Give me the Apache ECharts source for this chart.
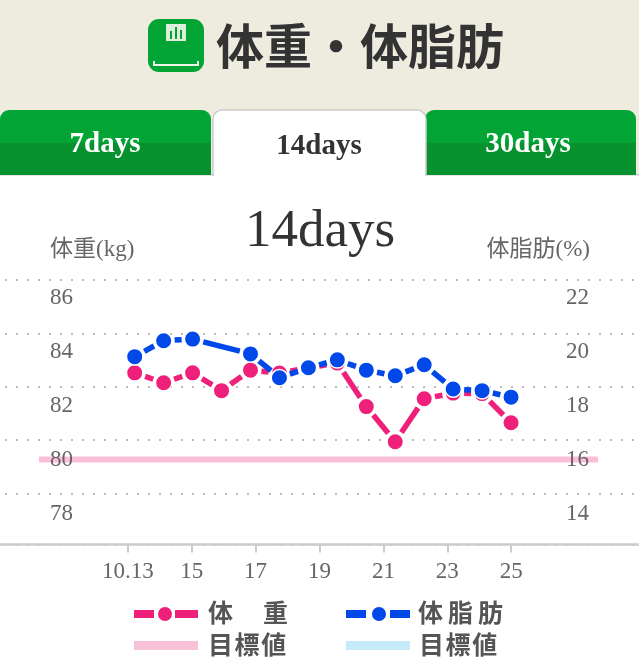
<!DOCTYPE html>
<html><head><meta charset="utf-8">
<script src="https://cdn.jsdelivr.net/npm/echarts@6/dist/echarts.min.js"></script>
<style>html,body{margin:0;padding:0;background:#fff}#c{width:639px;height:663px}</style>
</head><body><div id="c"></div>
<script>
const pageTitle = '体重・体脂肪';
const tabLabels = ['7days', '14days', '30days'];
const chartTitle = '14days';
const leftAxisName = '体重(kg)';
const rightAxisName = '体脂肪(%)';
const dateTicks = [13, 15, 17, 19, 21, 23, 25];
const dateTickLabels = ['10.13', '15', '17', '19', '21', '23', '25'];
const weightTicks = [78, 80, 82, 84, 86];
const fatTicks = [14, 16, 18, 20, 22];
const sampleIndex = [0,1,2,3,4,5,6,7,8,9,10,11,12,13];
const weight = [83.21,82.84,83.21,82.55,83.31,83.2,83.4,83.57,81.96,80.66,82.25,82.46,82.44,81.36];
const bodyFat = [19.81,20.4,20.46,null,19.91,19.03,19.4,19.69,19.31,19.1,19.51,18.61,18.55,18.31];
const weightTarget = 80;
const targetSpan = [10.22, 27.72];
const legendNames = ['体　\u2009重', '体\u2009脂\u2009肪', '目\u200a標\u200a値', '目\u200a標\u200a値'];

const PINK = '#ee2079', BLUE = '#0048e8';
const SERIF = '"Liberation Serif","Noto Sans CJK JP",serif';
const CJK = '"Noto Sans CJK JP","Liberation Sans",sans-serif';

function segments(vals) {
  const out = []; let prev = -1;
  vals.forEach((v, i) => { if (v != null) { if (prev >= 0) out.push([sampleIndex[prev], vals[prev], sampleIndex[i], v]); prev = i; } });
  return out;
}
function gapRender(color, gap) {
  return function (params, api) {
    const a = api.coord([api.value(0), api.value(1)]);
    const b = api.coord([api.value(2), api.value(3)]);
    const dx = b[0]-a[0], dy = b[1]-a[1], d = Math.hypot(dx, dy);
    const ux = dx/d, uy = dy/d;
    return { type:'line', silent:true,
      shape:{ x1:a[0]+ux*gap, y1:a[1]+uy*gap, x2:b[0]-ux*gap, y2:b[1]-uy*gap },
      style:{ stroke:color, lineWidth:5.5, lineCap:'butt' } };
  };
}
function dots(name, vals, color, yIdx, z) {
  return { name, type:'line', xAxisIndex:1, yAxisIndex:yIdx, z,
    data: vals.map((v,i)=>v==null?null:[sampleIndex[i],v]).filter(Boolean),
    lineStyle:{width:0,opacity:0}, symbol:'circle', symbolSize:16.5,
    showSymbol:true, showAllSymbol:true, clip:false, animation:false, silent:true,
    itemStyle:{color, borderColor:'#fff', borderWidth:1.5} };
}
function tab(x, w, active) {
  return { type:'rect', shape:{x, y:110, width:w, height:65, r:[9,9,0,0]},
    style: active ? {fill:'#fff', stroke:'#ccc', lineWidth:1.5}
      : {fill:{type:'linear',x:0,y:0,x2:0,y2:1,colorStops:[{offset:0,color:'#02a535'},{offset:.5,color:'#02a535'},{offset:.5,color:'#07912f'},{offset:1,color:'#07912f'}]}} };
}
function txt(text, x, y, font, fill, align) {
  return { type:'text', x, y, style:{ text, font, fill, textAlign:align||'center', textVerticalAlign:'middle' } };
}
const graphic = [
  { type:'rect', z:0, shape:{x:0,y:0,width:639,height:175}, style:{fill:'#eeebdf'} },
  { type:'rect', shape:{x:148,y:19,width:56,height:53,r:11}, style:{fill:'#02a535'} },
  { type:'rect', shape:{x:166,y:24,width:20,height:17}, style:{fill:'#dcefd8'} },
  { type:'rect', shape:{x:170,y:31,width:2,height:8}, style:{fill:'#02a535'} },
  { type:'rect', shape:{x:175,y:27,width:2,height:12}, style:{fill:'#02a535'} },
  { type:'rect', shape:{x:180,y:30,width:2,height:9}, style:{fill:'#02a535'} },
  { type:'polyline', shape:{points:[[154,61],[154,65],[198,65],[198,61]]}, style:{stroke:'#eef6e8',fill:null,lineWidth:2} },
  txt(pageTitle, 360, 46, 'bold 48px '+CJK, '#333'),
  { type:'rect', shape:{x:0,y:174,width:639,height:1.5}, style:{fill:'#ccc'} },
  tab(0,211,false), tab(425,211,false), tab(213,213,true),
  { type:'rect', shape:{x:214,y:172,width:211,height:6}, style:{fill:'#fff'} },
  txt(tabLabels[0], 105, 145, 'bold 29px '+SERIF, '#fff'),
  txt(tabLabels[1], 319, 147, 'bold 29px '+SERIF, '#333'),
  txt(tabLabels[2], 528, 145, 'bold 29px '+SERIF, '#fff'),
  txt(chartTitle, 320, 232, '53px '+SERIF, '#333'),
  txt(leftAxisName, 50, 250, '23px '+SERIF, '#666', 'left'),
  txt(rightAxisName, 590, 250, '23px '+SERIF, '#666', 'right'),
  // legend
  { type:'rect', shape:{x:134,y:610,width:20,height:8}, style:{fill:PINK} },
  { type:'circle', shape:{cx:165,cy:614,r:7}, style:{fill:PINK} },
  { type:'rect', shape:{x:175,y:610,width:23,height:8}, style:{fill:PINK} },
  { type:'rect', shape:{x:346,y:610,width:20,height:8}, style:{fill:BLUE} },
  { type:'circle', shape:{cx:379,cy:614,r:7}, style:{fill:BLUE} },
  { type:'rect', shape:{x:390,y:610,width:20,height:8}, style:{fill:BLUE} },
  { type:'rect', shape:{x:134,y:641,width:64,height:9}, style:{fill:'#f7c1d7'} },
  { type:'rect', shape:{x:346,y:641,width:64,height:9}, style:{fill:'#c5eafa'} },
  txt(legendNames[0], 208, 612, 'bold 25px '+CJK, '#555', 'left'),
  txt(legendNames[1], 418, 612, 'bold 25px '+CJK, '#555', 'left'),
  txt(legendNames[2], 208, 644, 'bold 25px '+CJK, '#555', 'left'),
  txt(legendNames[3], 419, 644, 'bold 25px '+CJK, '#555', 'left')
];
const chart = echarts.init(document.getElementById('c'), null, {renderer:'canvas'});
chart.setOption({
  animation:false, backgroundColor:'#fff', graphic,
  grid:{left:0, right:0, top:280, bottom:118.5, containLabel:false},
  xAxis:[
    { type:'value', min:9, max:29, position:'bottom', splitLine:{show:false},
      axisLine:{onZero:false, lineStyle:{color:'#ccc',width:2.5}},
      axisTick:{length:8, lineStyle:{color:'#ccc',width:2}, customValues:dateTicks},
      axisLabel:{customValues:dateTicks, margin:16, color:'#666', fontSize:23, fontFamily:'Liberation Serif',
        formatter:v=>dateTickLabels[dateTicks.indexOf(v)]} },
    { type:'value', min:-4.653, max:17.42, show:false }
  ],
  yAxis:[
    { type:'value', min:76.852, max:86.648, position:'left', z:5, splitLine:{show:false}, axisLine:{show:false}, axisTick:{show:false},
      axisLabel:{inside:true, margin:50, align:'left', padding:[2,0,0,0], customValues:weightTicks, color:'#666', fontSize:23, fontFamily:'Liberation Serif'} },
    { type:'value', min:12.852, max:22.648, position:'right', z:5, splitLine:{show:false}, axisLine:{show:false}, axisTick:{show:false},
      axisLabel:{inside:true, margin:50, align:'right', padding:[2,0,0,0], customValues:fatTicks, color:'#666', fontSize:23, fontFamily:'Liberation Serif'} },
    { type:'value', min:0, max:4.96, interval:1, inverse:true, position:'left', axisLine:{show:false}, axisTick:{show:false}, axisLabel:{show:false},
      splitLine:{show:true, lineStyle:{color:'#bbb', width:2, type:[2,9], dashOffset:-5}} }
  ],
  series:[
    { name:'目標値', type:'line', xAxisIndex:0, yAxisIndex:0, z:1, symbol:'none', silent:true,
      data:targetSpan.map(x=>[x,weightTarget]), lineStyle:{color:'#fbbfd9',width:6} },
    { type:'custom', name:'体重線', xAxisIndex:1, yAxisIndex:0, z:2, clip:false, silent:true,
      data:segments(weight), encode:{x:[0,2],y:[1,3]}, renderItem:gapRender(PINK,11) },
    dots('体重', weight, PINK, 0, 3),
    { type:'custom', name:'体脂肪線', xAxisIndex:1, yAxisIndex:1, z:4, clip:false, silent:true,
      data:segments(bodyFat), encode:{x:[0,2],y:[1,3]}, renderItem:gapRender(BLUE,11) },
    dots('体脂肪', bodyFat, BLUE, 1, 5)
  ]
});
</script></body></html>
